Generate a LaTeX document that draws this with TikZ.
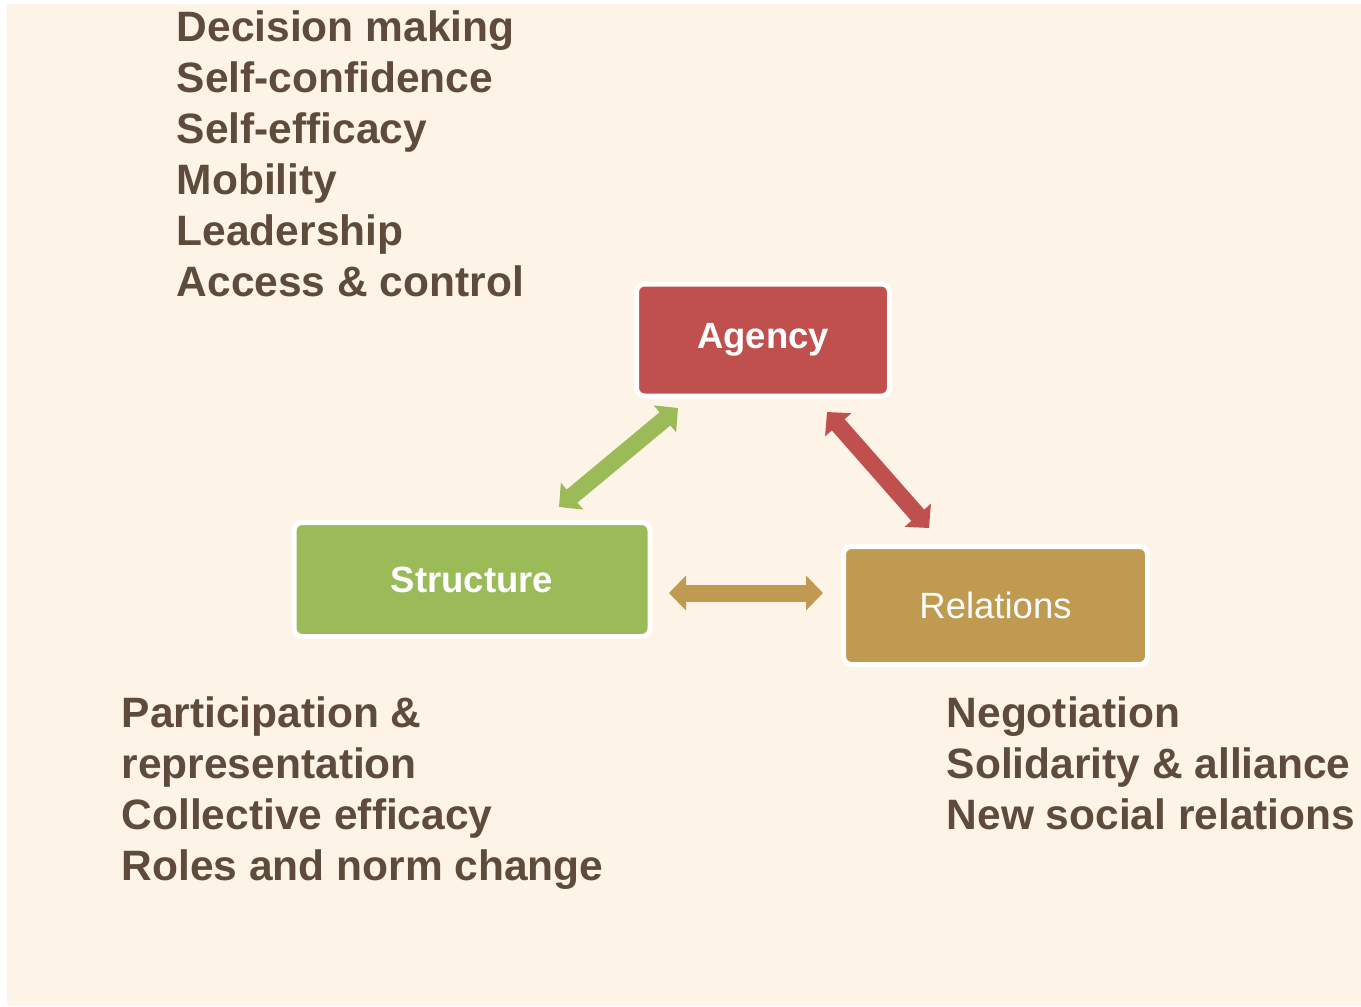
\documentclass[tikz,border=0pt]{standalone}
\usepackage{fontspec}
\setmainfont{Liberation Sans}
\usetikzlibrary{arrows.meta,calc}
\definecolor{bgcream}{RGB}{253,244,231}
\definecolor{txtbrown}{RGB}{94,75,60}
\definecolor{agred}{RGB}{192,80,77}
\definecolor{stgreen}{RGB}{155,187,89}
\definecolor{relgold}{RGB}{191,154,80}
\tikzset{
  x=1pt, y=-1pt,
  box/.style={draw=white, line width=5pt, rounded corners=8pt, inner sep=0pt,
    text=white, font=\fontsize{36.5}{43}\selectfont},
  item/.style={anchor=base west, inner sep=0pt, text=txtbrown,
    font=\fontsize{42.5}{51}\selectfont\bfseries},
  dblarrow/.style={line width=17pt,
    {Triangle[width=34pt,length=17pt]}-{Triangle[width=34pt,length=17pt]}}
}
\begin{document}
\begin{tikzpicture}
\useasboundingbox (0,0) rectangle (1361,1007);
\fill[white] (0,0) rectangle (1361,1007);
\fill[bgcream] (7,4) rectangle (1361,1006);

% boxes
\node[box, fill=agred, minimum width=253pt, minimum height=112pt, font=\fontsize{36.5}{43}\selectfont\bfseries]
  (agency) at (763,340) {Agency};
\node[box, fill=stgreen, minimum width=356pt, minimum height=114pt, font=\fontsize{36.5}{43}\selectfont\bfseries]
  (structure) at (472,579.5) {Structure};
\node[box, fill=relgold, minimum width=304pt, minimum height=118pt]
  (relations) at (995.5,605.5) {Relations};

% arrow end points
\coordinate (gs) at (559,507);
\coordinate (ga) at (678,408);
\coordinate (ra) at (827,412);
\coordinate (rr) at (929,528);
\coordinate (ys) at (669,593);
\coordinate (yr) at (823,593);

\draw[dblarrow, draw=stgreen, fill=stgreen] (gs) -- (ga);
\draw[dblarrow, draw=agred, fill=agred] (ra) -- (rr);
\draw[dblarrow, draw=relgold, fill=relgold] (ys) -- (yr);

% top-left list
\node[item] (a1) at (176.5,41) {Decision making};
\node[item] (a2) at (176.5,92) {Self-confidence};
\node[item] (a3) at (176.5,143) {Self-efficacy};
\node[item] (a4) at (176.5,194) {Mobility};
\node[item] (a5) at (176.5,245) {Leadership};
\node[item] (a6) at (176.5,296) {Access \& control};

% bottom-left list
\node[item] (s1) at (121.5,727) {Participation \&};
\node[item] (s2) at (121.5,778) {representation};
\node[item] (s3) at (121.5,829) {Collective efficacy};
\node[item] (s4) at (121.5,880) {Roles and norm change};

% bottom-right list
\node[item] (r1) at (946.5,727) {Negotiation};
\node[item] (r2) at (946.5,778) {Solidarity \& alliance};
\node[item] (r3) at (946.5,829) {New social relations};
\end{tikzpicture}
\end{document}
